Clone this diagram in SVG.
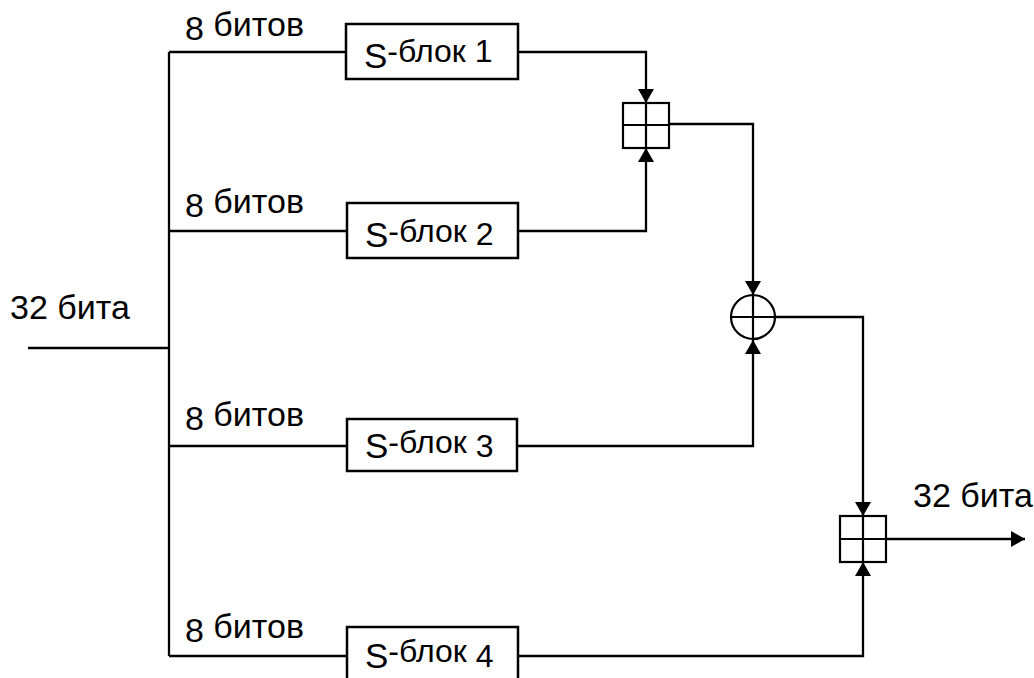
<svg xmlns="http://www.w3.org/2000/svg" width="1034" height="678" viewBox="0 0 1034 678">
  <style>
    .wire { fill: none; stroke: #000; stroke-width: 2.3; }
    .box { fill: #fff; stroke: #000; stroke-width: 2.5; }
    .op { fill: #fff; stroke: #000; stroke-width: 2.2; }
    .lbl { font-family: "Liberation Sans", Arial, sans-serif; font-size: 34px; fill: #000; }
    .blk { font-family: "Liberation Sans", Arial, sans-serif; font-size: 32px; fill: #000; }
    .s { font-size: 35px; }
  </style>
  <defs>
    <marker id="arr" viewBox="0 0 14 16" refX="14" refY="8" markerWidth="14" markerHeight="16" markerUnits="userSpaceOnUse" orient="auto">
      <path d="M0,0 L14,8 L0,16 Z" fill="#000"/>
    </marker>
  </defs>

  <rect width="1034" height="678" fill="#fff"/>

  <!-- connectors -->
  <g id="connectors">
    <!-- input and distribution bus -->
    <path class="wire" d="M28,348 H169"/>
    <path class="wire" d="M169,52 V656"/>
    <path class="wire" d="M169,52 H346"/>
    <path class="wire" d="M169,231 H346"/>
    <path class="wire" d="M169,446 H347"/>
    <path class="wire" d="M169,656 H347"/>
    <!-- S-box outputs -->
    <path class="wire" d="M518,52 H646 V103" marker-end="url(#arr)"/>
    <path class="wire" d="M518,231 H646 V148" marker-end="url(#arr)"/>
    <path class="wire" d="M669,124 H753 V295" marker-end="url(#arr)"/>
    <path class="wire" d="M517,446 H753 V340" marker-end="url(#arr)"/>
    <path class="wire" d="M775,317 H863 V516" marker-end="url(#arr)"/>
    <path class="wire" d="M518,656 H863 V562" marker-end="url(#arr)"/>
    <path class="wire" d="M886,539 H1025" marker-end="url(#arr)"/>
  </g>

  <!-- labels -->
  <g id="labels">
    <text class="lbl" x="10" y="319">32 бита</text>
    <text class="lbl" x="913" y="507">32 бита</text>
    <text class="lbl" x="185" y="40">8<tspan dy="-4"> битов</tspan></text>
    <text class="lbl" x="185" y="217">8<tspan dy="-4"> битов</tspan></text>
    <text class="lbl" x="185" y="430">8<tspan dy="-4"> битов</tspan></text>
    <text class="lbl" x="185" y="642">8<tspan dy="-4"> битов</tspan></text>
  </g>

  <!-- S-boxes -->
  <g id="sbox1">
    <rect class="box" x="346" y="24" width="172" height="55"/>
    <text class="blk" x="364" y="68"><tspan class="s">S</tspan><tspan dy="-6">-блок 1</tspan></text>
  </g>
  <g id="sbox2">
    <rect class="box" x="347" y="203" width="171" height="55"/>
    <text class="blk" x="365" y="247"><tspan class="s">S</tspan><tspan dy="-5">-блок </tspan><tspan dy="3">2</tspan></text>
  </g>
  <g id="sbox3">
    <rect class="box" x="347" y="419" width="170" height="52"/>
    <text class="blk" x="365" y="458"><tspan class="s">S</tspan><tspan dy="-5">-блок </tspan><tspan dy="4">3</tspan></text>
  </g>
  <g id="sbox4">
    <rect class="box" x="347" y="627" width="171" height="60"/>
    <text class="blk" x="365" y="668"><tspan class="s">S</tspan><tspan dy="-6">-блок </tspan><tspan dy="5">4</tspan></text>
  </g>

  <!-- modular adders and XOR -->
  <g id="add1">
    <rect class="op" x="623" y="103" width="46" height="45"/>
    <path class="op" d="M646,103 V148 M623,125 H669"/>
  </g>
  <g id="xor">
    <circle class="op" cx="753" cy="317" r="22"/>
    <path class="op" d="M753,295 V339 M731,317 H775"/>
  </g>
  <g id="add2">
    <rect class="op" x="840" y="516" width="46" height="46"/>
    <path class="op" d="M863,516 V562 M840,539 H886"/>
  </g>
</svg>
